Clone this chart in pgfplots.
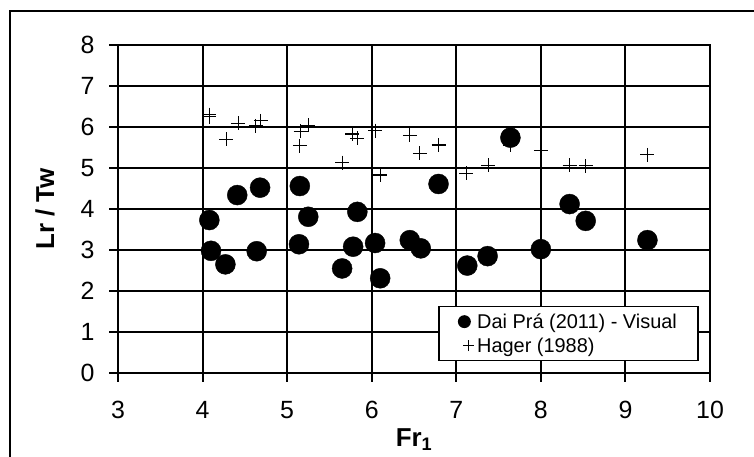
\documentclass[border=0pt]{standalone}
\usepackage{pgfplots}
\pgfplotsset{compat=1.18}
\usepackage{fontspec}
\setmainfont{Liberation Sans}

% Measured recirculation length versus inflow Froude number
\pgfplotstableread{
fr    lr
4.08  3.73
4.10  2.98
4.27  2.65
4.64  2.97
4.41  4.34
4.68  4.52
5.15  4.56
5.25  3.81
5.14  3.14
5.65  2.55
5.78  3.08
5.83  3.93
6.04  3.17
6.10  2.31
6.45  3.24
6.58  3.04
6.79  4.61
7.13  2.62
7.37  2.85
7.64  5.74
8.00  3.02
8.34  4.12
8.53  3.71
9.26  3.24
}\daipra

% Predictions by the Hager (1988) relation
\pgfplotstableread{
fr    lr
4.08  6.25
4.08  6.30
4.28  5.70
4.42  6.09
4.63  6.03
4.69  6.15
5.15  5.54
5.16  5.90
5.25  6.04
5.65  5.13
5.77  5.83
5.83  5.72
6.04  5.91
6.10  4.83
6.45  5.80
6.57  5.36
6.79  5.56
7.12  4.87
7.38  5.07
7.64  5.55
8.00  5.42
8.34  5.07
8.53  5.05
9.26  5.32
}\hager

\begin{document}
\begin{tikzpicture}[x=1bp,y=1bp]
\useasboundingbox (0,0) rectangle (754,457);
\draw[line width=1.3bp] (10,-20) -- (10,446) -- (780,446);
\begin{axis}[
  at={(118bp,84bp)}, anchor=south west,
  scale only axis, width=592bp, height=328bp,
  xmin=3, xmax=10, ymin=0, ymax=8,
  xtick={3,...,10}, ytick={0,...,8},
  tick pos=left, tick align=outside,
  major tick length=9bp,
  grid=major,
  major grid style={black, line width=1.9bp},
  axis line style={black, line width=2.5bp},
  tick style={black, line width=1.9bp},
  /pgf/number format/assume math mode=true,
  ticklabel style={font=\fontsize{25}{25}\selectfont},
  yticklabel style={xshift=-11bp},
  xticklabel style={yshift=-16bp},
  xlabel={\textbf{Fr\textsubscript{1}}},
  ylabel={\textbf{Lr / Tw}},
  label style={font=\fontsize{26}{26}\selectfont},
  xlabel style={at={(axis description cs:0.5,0)}, anchor=base, yshift=-74bp},
  ylabel style={at={(axis description cs:-0.1233,0.5)}, anchor=center},
  legend style={
    at={(axis cs:6.787,1.634)}, anchor=north west,
    draw=black, line width=1.3bp, fill=white,
    font=\fontsize{20}{20}\selectfont,
    inner xsep=19bp, inner ysep=4.5bp,
    row sep=3bp, column sep=3bp,
    cells={anchor=west, inner sep=1bp, text height=15.5bp, text depth=2.5bp},
  },
]
% predictions first, so the measured circles lie on top of them
\addplot[only marks, mark=+, mark size=7bp, line width=1.1bp, black, forget plot]
  table[x=fr, y=lr] {\hager};
\addplot[only marks, mark=*, mark size=10bp, black, fill=black, forget plot]
  table[x=fr, y=lr] {\daipra};
\addlegendimage{legend image code/.code={
    \draw[opacity=0, line width=0pt] (0bp,-5.8bp) rectangle (13.6bp,5.8bp);
    \fill[black] (5.8bp,0bp) circle (5.8bp);
  }}
\addlegendentry{Dai Prá (2011) - Visual}
\addlegendimage{legend image code/.code={
    \draw[opacity=0, line width=0pt] (0bp,-5.8bp) rectangle (13.6bp,5.8bp);
    \draw[black, line width=1.1bp, overlay] (4.8bp,0bp) -- (15.8bp,0bp) (10.3bp,-5.5bp) -- (10.3bp,5.5bp);
  }}
\addlegendentry{Hager (1988)}
\end{axis}
\end{tikzpicture}
\end{document}
